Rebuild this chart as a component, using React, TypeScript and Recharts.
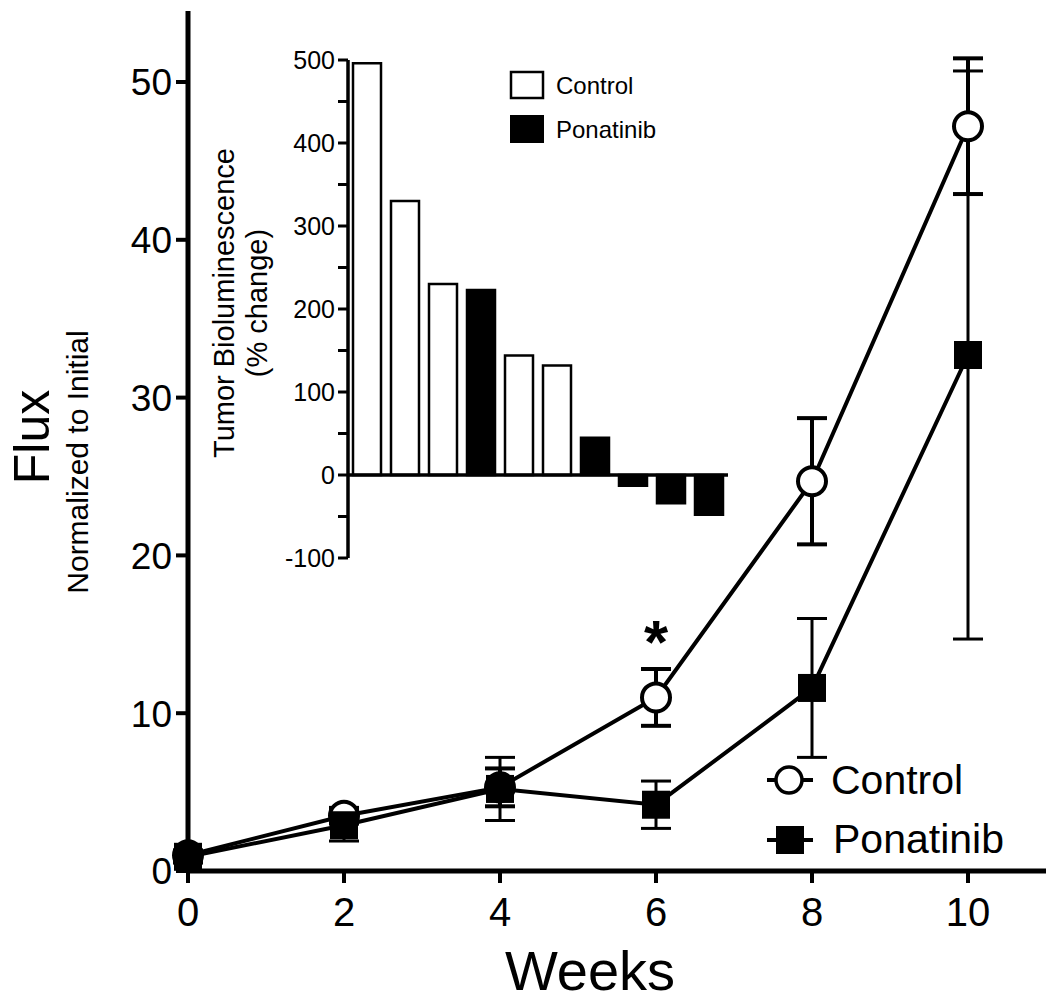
import React from 'react';
import {
  LineChart,
  Line,
  XAxis,
  YAxis,
  ErrorBar,
  LabelList,
  Label,
  Legend,
  BarChart,
  Bar,
  Cell,
  ReferenceLine,
} from 'recharts';

const FONT = '"Liberation Sans", Arial, Helvetica, sans-serif';

// ---- Main chart data ----
const weeks = [0, 2, 4, 6, 8, 10];
const controlMean = [1.0, 3.5, 5.3, 11.0, 24.7, 47.2];
const controlSem = [0.3, 0.5, 1.2, 1.8, 4.0, 4.3];
const ponatinibMean = [0.9, 2.9, 5.2, 4.2, 11.6, 32.7];
const ponatinibSem = [0.4, 1.0, 2.0, 1.5, 4.4, 18.0];
const significance = ['', '', '', '*', '', ''];
const xTicks = [0, 2, 4, 6, 8, 10];
const yTicks = [0, 10, 20, 30, 40, 50];

// ---- Inset (waterfall) data ----
const insetSubjects = ['1', '2', '3', '4', '5', '6', '7', '8', '9', '10'];
const insetValues = [496, 330, 230, 223, 144, 132, 45, -13, -34, -48];
const insetGroups = [
  'Control', 'Control', 'Control', 'Ponatinib', 'Control',
  'Control', 'Ponatinib', 'Ponatinib', 'Ponatinib', 'Ponatinib',
];
const insetGroupNames = ['Control', 'Ponatinib'];
const insetTicks = [-100, -50, 0, 50, 100, 150, 200, 250, 300, 350, 400, 450, 500];

const groupFill: Record<string, string> = { Control: '#ffffff', Ponatinib: '#000000' };

const ControlDot = (props: any) => {
  const { cx, cy, index } = props;
  if (cx == null || cy == null) return <g key={`cd-${index}`} />;
  return <circle key={`cd-${index}`} cx={cx} cy={cy} r={14} fill="#fff" stroke="#000" strokeWidth={4} />;
};

const PonatinibDot = (props: any) => {
  const { cx, cy, index } = props;
  if (cx == null || cy == null) return <g key={`pd-${index}`} />;
  return <rect key={`pd-${index}`} x={cx - 14} y={cy - 14} width={28} height={28} fill="#000" />;
};

const XTick = (props: any) => {
  const { x, y, payload } = props;
  return (
    <text x={x} y={y} dy={43} textAnchor="middle" fontSize={40} fontFamily={FONT} fill="#000">
      {payload.value}
    </text>
  );
};

const YTick = (props: any) => {
  const { x, y, payload } = props;
  return (
    <text x={x} y={y} dy="0.36em" textAnchor="end" fontSize={37} fontFamily={FONT} fill="#000">
      {payload.value}
    </text>
  );
};

const InsetYTick = (props: any) => {
  const { x, y, payload } = props;
  if (payload.value % 100 !== 0) return <g />;
  return (
    <text x={x} y={y} dy="0.36em" textAnchor="end" fontSize={25} fontFamily={FONT} fill="#000">
      {payload.value}
    </text>
  );
};

const AsteriskLabel = (props: any) => {
  const { x, y, value } = props;
  if (!value) return null;
  return (
    <text x={x} y={y - 34} textAnchor="middle" fontSize={62} fontWeight="bold" fontFamily={FONT} fill="#000">
      {value}
    </text>
  );
};

const MainLegend = (props: any) => {
  const payload = props.payload || [];
  const names = payload.map((p: any) => p.value);
  return (
    <svg width={280} height={120} style={{ display: 'block' }}>
      <line x1={7} y1={32} x2={53} y2={32} stroke="#000" strokeWidth={4} />
      <circle cx={29} cy={32} r={13} fill="#fff" stroke="#000" strokeWidth={3.5} />
      <text x={71} y={46} fontSize={41} fontFamily={FONT} fill="#000">{names[0]}</text>
      <line x1={7} y1={92} x2={53} y2={92} stroke="#000" strokeWidth={4} />
      <rect x={16} y={78} width={28} height={28} fill="#000" />
      <text x={73} y={105} fontSize={41} fontFamily={FONT} fill="#000">{names[1]}</text>
    </svg>
  );
};

const InsetLegend = () => (
  <svg width={200} height={90} style={{ display: 'block' }}>
    <rect x={6} y={6} width={32} height={26} fill="#fff" stroke="#000" strokeWidth={2.5} />
    <text x={51} y={28} fontSize={24} fontFamily={FONT} fill="#000">{insetGroupNames[0]}</text>
    <rect x={5} y={49} width={34} height={28} fill="#000" />
    <text x={51} y={72} fontSize={24} fontFamily={FONT} fill="#000">{insetGroupNames[1]}</text>
  </svg>
);

export default function App() {
  const data = weeks.map((w, i) => ({
    week: w,
    control: controlMean[i],
    controlErr: controlSem[i],
    ponatinib: ponatinibMean[i],
    ponatinibErr: ponatinibSem[i],
    sig: significance[i],
  }));
  const insetData = insetSubjects.map((s, i) => ({ subject: s, value: insetValues[i], group: insetGroups[i] }));

  return (
    <div style={{ position: 'absolute', left: 0, top: 0, width: 1050, height: 1003, background: '#fff' }}>
      <div style={{ position: 'absolute', left: 0, top: 0 }}>
        <LineChart width={1050} height={1003} data={data} margin={{ top: 11, right: 4, bottom: 72, left: 88 }}>
          <XAxis
            dataKey="week"
            type="number"
            domain={[0, 11]}
            ticks={xTicks}
            height={60}
            tickSize={12}
            tickMargin={0}
            axisLine={{ stroke: '#000', strokeWidth: 5 }}
            tickLine={{ stroke: '#000', strokeWidth: 4 }}
            tick={<XTick />}
          >
            <Label
              content={() => (
                <text x={590} y={990} textAnchor="middle" fontSize={56} fontFamily={FONT} fill="#000">
                  Weeks
                </text>
              )}
            />
          </XAxis>
          <YAxis
            type="number"
            domain={[0, 54.5]}
            ticks={yTicks}
            width={100}
            tickSize={12}
            tickMargin={4}
            axisLine={{ stroke: '#000', strokeWidth: 5 }}
            tickLine={{ stroke: '#000', strokeWidth: 4 }}
            tick={<YTick />}
          >
            <Label
              content={() => (
                <g>
                  <text
                    x={49}
                    y={437}
                    transform="rotate(-90 49 437)"
                    textAnchor="middle"
                    fontSize={50}
                    fontFamily={FONT}
                    fill="#000"
                  >
                    Flux
                  </text>
                  <text
                    x={88}
                    y={462}
                    transform="rotate(-90 88 462)"
                    textAnchor="middle"
                    fontSize={30}
                    fontFamily={FONT}
                    fill="#000"
                  >
                    Normalized to Initial
                  </text>
                </g>
              )}
            />
          </YAxis>
          <Line
            name="Control"
            dataKey="control"
            type="linear"
            stroke="#000"
            strokeWidth={4}
            dot={ControlDot}
            activeDot={false}
            isAnimationActive={false}
          >
            <ErrorBar dataKey="controlErr" width={15} strokeWidth={4} stroke="#000" />
            <LabelList dataKey="sig" content={AsteriskLabel} />
          </Line>
          <Line
            name="Ponatinib"
            dataKey="ponatinib"
            type="linear"
            stroke="#000"
            strokeWidth={4}
            dot={PonatinibDot}
            activeDot={false}
            isAnimationActive={false}
          >
            <ErrorBar dataKey="ponatinibErr" width={15} strokeWidth={3} stroke="#000" />
          </Line>
          <Legend
            layout="horizontal"
            verticalAlign="middle"
            align="center"
            content={<MainLegend />}
            wrapperStyle={{ left: 760, top: 748, width: 280, height: 120 }}
          />
        </LineChart>
      </div>

      <div style={{ position: 'absolute', left: 0, top: 0 }}>
        <BarChart
          width={760}
          height={600}
          data={insetData}
          margin={{ top: 60, right: 32, bottom: 42, left: 288 }}
        >
          <XAxis dataKey="subject" hide />
          <YAxis
            type="number"
            domain={[-100, 500]}
            ticks={insetTicks}
            width={60}
            tickSize={10}
            tickMargin={3}
            axisLine={{ stroke: '#000', strokeWidth: 3.5 }}
            tickLine={{ stroke: '#000', strokeWidth: 3 }}
            tick={<InsetYTick />}
            interval={0}
          >
            <Label
              content={() => (
                <g>
                  <text
                    x={234}
                    y={303}
                    transform="rotate(-90 234 303)"
                    textAnchor="middle"
                    fontSize={29}
                    fontFamily={FONT}
                    fill="#000"
                  >
                    Tumor Bioluminescence
                  </text>
                  <text
                    x={267}
                    y={303}
                    transform="rotate(-90 267 303)"
                    textAnchor="middle"
                    fontSize={29}
                    fontFamily={FONT}
                    fill="#000"
                  >
                    (% change)
                  </text>
                </g>
              )}
            />
          </YAxis>
          <Bar dataKey="value" barSize={28} isAnimationActive={false}>
            {insetData.map((d, i) => (
              <Cell key={`cell-${i}`} fill={groupFill[d.group]} stroke="#000" strokeWidth={2.5} />
            ))}
          </Bar>
          <ReferenceLine y={0} stroke="#000" strokeWidth={3.5} />
          <Legend
            layout="horizontal"
            verticalAlign="middle"
            align="center"
            content={<InsetLegend />}
            wrapperStyle={{ left: 505, top: 66, width: 200, height: 90 }}
          />
        </BarChart>
      </div>
    </div>
  );
}
